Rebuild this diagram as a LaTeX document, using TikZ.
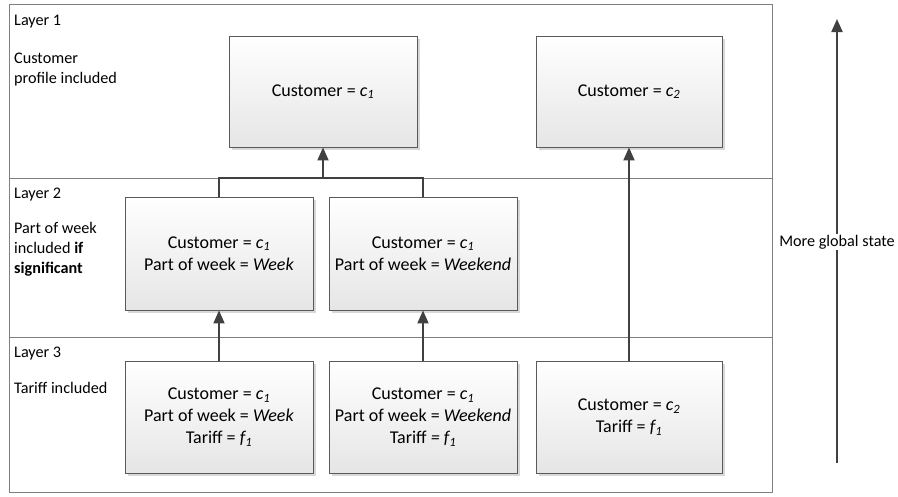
\documentclass[tikz,border=0pt]{standalone}
\usepackage{fontspec}
\setmainfont{Carlito}
\usetikzlibrary{arrows.meta,shadows}
\definecolor{framegray}{HTML}{808080}
\definecolor{boxborder}{HTML}{5A5A5A}
\definecolor{conn}{HTML}{404040}
\begin{document}
\begin{tikzpicture}[x=1pt,y=-1pt,
  statebox/.style={draw=boxborder, line width=0.9pt, top color=white, bottom color=black!10,
    drop shadow={shadow xshift=2.5pt, shadow yshift=-2.5pt, fill=black!30, opacity=0.5},
    minimum width=188pt, minimum height=111pt, inner sep=0pt, align=center,
    font=\fontsize{18}{22}\selectfont},
  lbl/.style={anchor=base west, inner sep=0pt, align=left, font=\fontsize{16.2}{20}\selectfont},
  connline/.style={draw=conn, line width=2pt},
  arrowline/.style={draw=conn, line width=2pt, -{Triangle[width=11pt,length=13pt]}},
  frame/.style={draw=framegray, line width=1pt}]
\useasboundingbox (0,0) rectangle (898,496);
% layer frames
\draw[frame] (9.5,4.5) rectangle (772,492.5);
\draw[frame] (9.5,178) -- (772,178);
\draw[frame] (9.5,337) -- (772,337);
% labels (base = baseline of the last line)
\node[lbl] (l1) at (14,25) {Layer 1};
\node[lbl] (l1d) at (14,83) {Customer\\profile included};
\node[lbl] (l2) at (14,198) {Layer 2};
\node[lbl] (l2d) at (14,273) {Part of week\\included \textbf{if}\\\textbf{significant}};
\node[lbl] (l3) at (14,357) {Layer 3};
\node[lbl] (l3d) at (14,393) {Tariff included};
% boxes
\node[statebox] (c1) at (323,91.5) {Customer = \textit{c\textsubscript{1}}};
\node[statebox, minimum width=186pt] (c2) at (629,91.5) {Customer = \textit{c\textsubscript{2}}};
\node[statebox, minimum height=113pt] (w2) at (219,253.5) {Customer = \textit{c\textsubscript{1}}\\Part of week = \textit{Week}};
\node[statebox, minimum height=113pt] (we2) at (423,253.5) {Customer = \textit{c\textsubscript{1}}\\Part of week = \textit{Weekend}};
\node[statebox, minimum height=112pt] (w3) at (219,417) {Customer = \textit{c\textsubscript{1}}\\Part of week = \textit{Week}\\Tariff = \textit{f\textsubscript{1}}};
\node[statebox, minimum height=112pt] (we3) at (423,417) {Customer = \textit{c\textsubscript{1}}\\Part of week = \textit{Weekend}\\Tariff \textit{= f\textsubscript{1}}};
\node[statebox, minimum width=186pt, minimum height=112pt] (c23) at (629,417) {Customer = \textit{c\textsubscript{2}}\\Tariff = \textit{f\textsubscript{1}}};
% connectors
\coordinate (j) at (323,178);
\draw[connline] (w2.north) -- (w2.north |- j) -- (we2.north |- j) -- (we2.north);
\draw[arrowline] (j) -- (c1.south);
\draw[arrowline] (w3.north) -- (w2.south);
\draw[arrowline] (we3.north) -- (we2.south);
\draw[arrowline] (c23.north) -- (c2.south);
% global arrow
\coordinate (gbot) at (837,463);
\coordinate (gtop) at (837,19);
\draw[arrowline] (gbot) -- (gtop) node[pos=0.498, fill=white, inner sep=1pt, font=\fontsize{16.2}{20}\selectfont, text=black] (glabel) {More global state};
\end{tikzpicture}
\end{document}
